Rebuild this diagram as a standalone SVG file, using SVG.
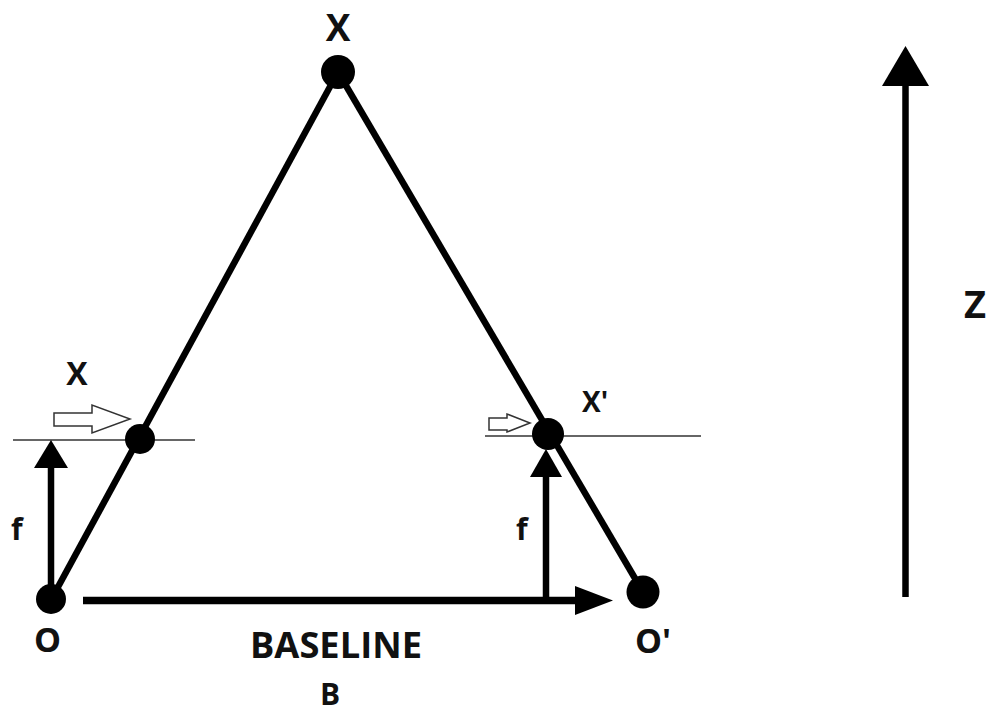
<svg xmlns="http://www.w3.org/2000/svg" width="987" height="715" viewBox="0 0 987 715">
<style>
.t{font-family:"Open Sans","Liberation Sans",sans-serif;font-weight:bold;fill:#111}
.thick{stroke:#000;stroke-width:6.5;fill:none}
.thin{stroke:#333;stroke-width:1.5;fill:none}
.dot{fill:#000}
.head{fill:#000}
.hollow{fill:#fff;stroke:#333;stroke-width:1.5;stroke-linejoin:miter}
</style>
<rect width="987" height="715" fill="#fff"/>
<g id="connectors">
  <line class="thick" x1="338" y1="72" x2="52" y2="598"/>
  <line class="thick" x1="338" y1="72" x2="643" y2="592"/>
  <line class="thin" x1="13" y1="440" x2="195" y2="440"/>
  <line class="thin" x1="485" y1="436" x2="701" y2="436"/>
  <g id="f-left">
    <line class="thick" x1="51" y1="600" x2="51" y2="466"/>
    <polygon class="head" points="51,440 34,468 68,468"/>
  </g>
  <g id="f-right">
    <line class="thick" x1="546" y1="600" x2="546" y2="475"/>
    <polygon class="head" points="546,449 530,477 562,477"/>
  </g>
  <g id="baseline-arrow">
    <line x1="83" y1="600.5" x2="578" y2="600.5" stroke="#000" stroke-width="7.5"/>
    <polygon class="head" points="613,600.5 575,586 575,615"/>
  </g>
  <g id="z-arrow">
    <line class="thick" x1="905.5" y1="597" x2="905.5" y2="83"/>
    <polygon class="head" points="905.5,46 882,86 929,86"/>
  </g>
  <polygon class="hollow" points="54,413 92,413 92,405 130,419 92,433 92,426 54,426"/>
  <polygon class="hollow" points="489,418 507,418 507,414 530,423 507,432 507,430 489,430"/>
</g>
<g id="node-X-top">
  <circle class="dot" cx="338" cy="72" r="17"/>
  <text class="t" x="338" y="41" font-size="37" text-anchor="middle">X</text>
</g>
<g id="node-x-left">
  <circle class="dot" cx="140" cy="439" r="15"/>
  <text class="t" x="77" y="385" font-size="32" text-anchor="middle">X</text>
</g>
<g id="node-x-right">
  <circle class="dot" cx="548" cy="434" r="16"/>
  <text class="t" x="582" y="412" font-size="28">X'</text>
</g>
<g id="node-O">
  <circle class="dot" cx="51" cy="599" r="15"/>
  <text class="t" x="47.5" y="652" font-size="34" text-anchor="middle">O</text>
</g>
<g id="node-O-prime">
  <circle class="dot" cx="643" cy="592" r="16.5"/>
  <text class="t" x="635" y="653" font-size="34">O'</text>
</g>
<g id="labels">
  <text class="t" x="11" y="540" font-size="30">f</text>
  <text class="t" x="516" y="540" font-size="30">f</text>
  <text class="t" x="336" y="658" font-size="35" text-anchor="middle" textLength="172" lengthAdjust="spacingAndGlyphs">BASELINE</text>
  <text class="t" x="330" y="705" font-size="30" text-anchor="middle">B</text>
  <text class="t" x="975" y="318" font-size="38" text-anchor="middle">Z</text>
</g>
</svg>
